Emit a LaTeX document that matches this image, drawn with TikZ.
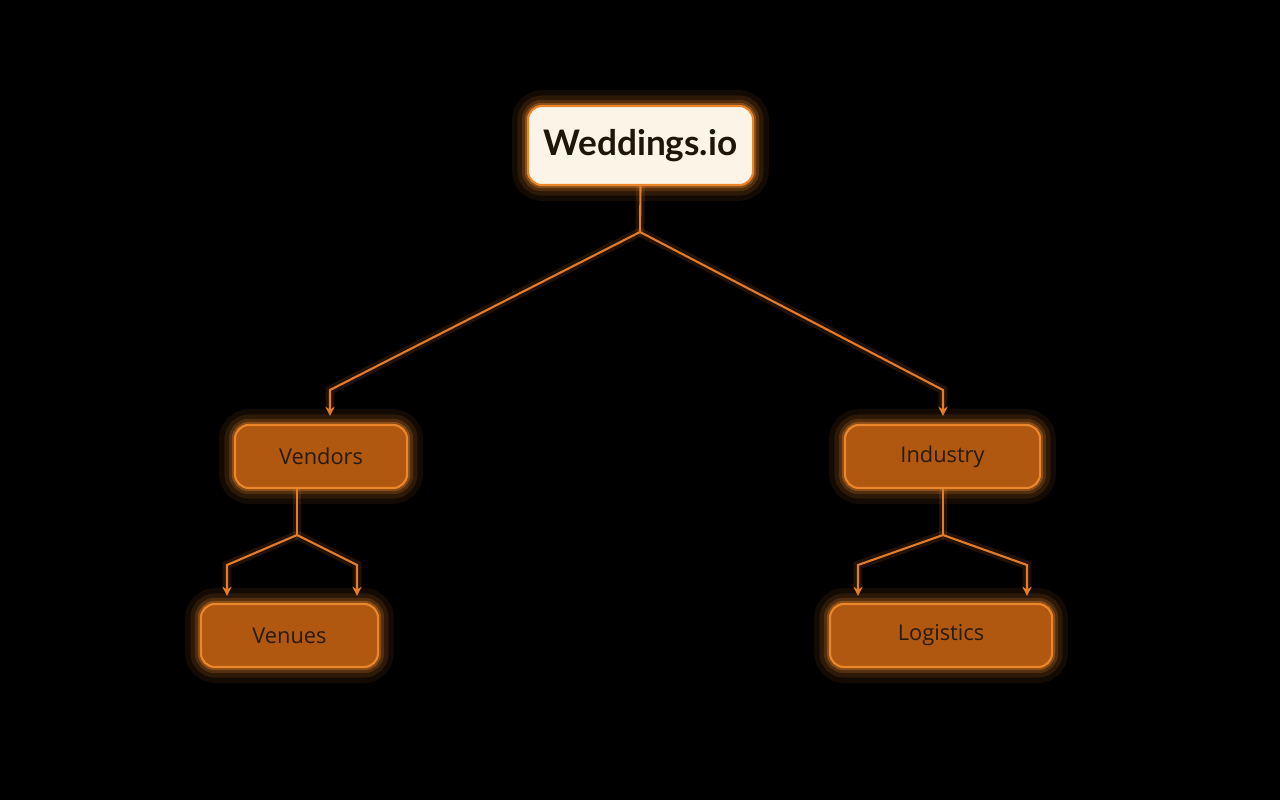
\documentclass[tikz,border=0pt]{standalone}
\usepackage{fontspec}
\setmainfont{Open Sans}
\newfontfamily\titlefont{Lato}
\usetikzlibrary{arrows.meta}

\definecolor{boxfill}{RGB}{176,88,16}
\definecolor{boxline}{RGB}{236,134,42}
\definecolor{wire}{RGB}{226,124,40}
\definecolor{cream}{RGB}{252,244,231}
\definecolor{ink}{RGB}{40,26,14}

\begin{document}
\begin{tikzpicture}[x=0.01cm, y=-0.01cm, line width = 0.6pt,
		glow/.style = {preaction = {draw = boxline, line width = 9pt, opacity = 0.08},
			preaction = {draw = boxline, line width = 6pt, opacity = 0.12},
			preaction = {draw = boxline, line width = 3.5pt, opacity = 0.2},
			preaction = {draw = boxline, line width = 1.8pt, opacity = 0.35}},
		root/.style = {glow, rectangle, rounded corners = 4pt, draw = boxline,
			fill = cream, text = ink!80!black, font = \titlefont\bfseries\fontsize{10}{12}\selectfont,
			minimum width = 2.25cm, minimum height = 0.79cm, inner sep = 0pt},
		item/.style = {glow, rectangle, rounded corners = 4pt, draw = boxline,
			fill = boxfill, text = ink, font = \fontsize{6.2}{8}\selectfont,
			minimum height = 0.63cm, inner sep = 0pt},
		wire/.style = {draw = wire, line width = 0.6pt,
			preaction = {draw = wire, line width = 2.5pt, opacity = 0.15}},
		tip/.style = {wire, -{Stealth[length = 2.6pt, width = 2.6pt]}}]

	\fill [black] (0,0) rectangle (1280,800);
	\useasboundingbox (0,0) rectangle (1280,800);

	% top level
	\node [root] (top) at (640.5,145.5) {Weddings.io};

	% second level
	\node [item, minimum width = 1.72cm] (vendors) at (321,456.5) {Vendors};
	\node [item, minimum width = 1.95cm] (industry) at (942.5,456.5) {Industry};

	% third level
	\node [item, minimum width = 1.77cm] (venues) at (289.5,635.5) {Venues};
	\node [item, minimum width = 2.22cm] (logistics) at (941,635.5) {Logistics};

	\coordinate (j_1) at (640,232);
	\coordinate (l_1) at (330,390);
	\coordinate (r_1) at (943,390);
	\coordinate (j_2) at (297,535);
	\coordinate (l_2) at (227,565);
	\coordinate (r_2) at (357,565);
	\coordinate (j_3) at (943,535);
	\coordinate (l_3) at (858,565);
	\coordinate (r_3) at (1027,565);

	\draw [wire] (top.south) -- (j_1);
	\draw [tip] (j_1) -- (l_1) -- ([yshift = 2.3pt]l_1 |- vendors.north);
	\draw [tip] (j_1) -- (r_1) -- ([yshift = 2.3pt]r_1 |- industry.north);

	\draw [wire] (j_2 |- vendors.south) -- (j_2);
	\draw [tip] (j_2) -- (l_2) -- ([yshift = 2pt]l_2 |- venues.north);
	\draw [tip] (j_2) -- (r_2) -- ([yshift = 2pt]r_2 |- venues.north);

	\draw [wire] (j_3 |- industry.south) -- (j_3);
	\draw [tip] (j_3) -- (l_3) -- ([yshift = 2pt]l_3 |- logistics.north);
	\draw [tip] (j_3) -- (r_3) -- ([yshift = 2pt]r_3 |- logistics.north);
\end{tikzpicture}
\end{document}
